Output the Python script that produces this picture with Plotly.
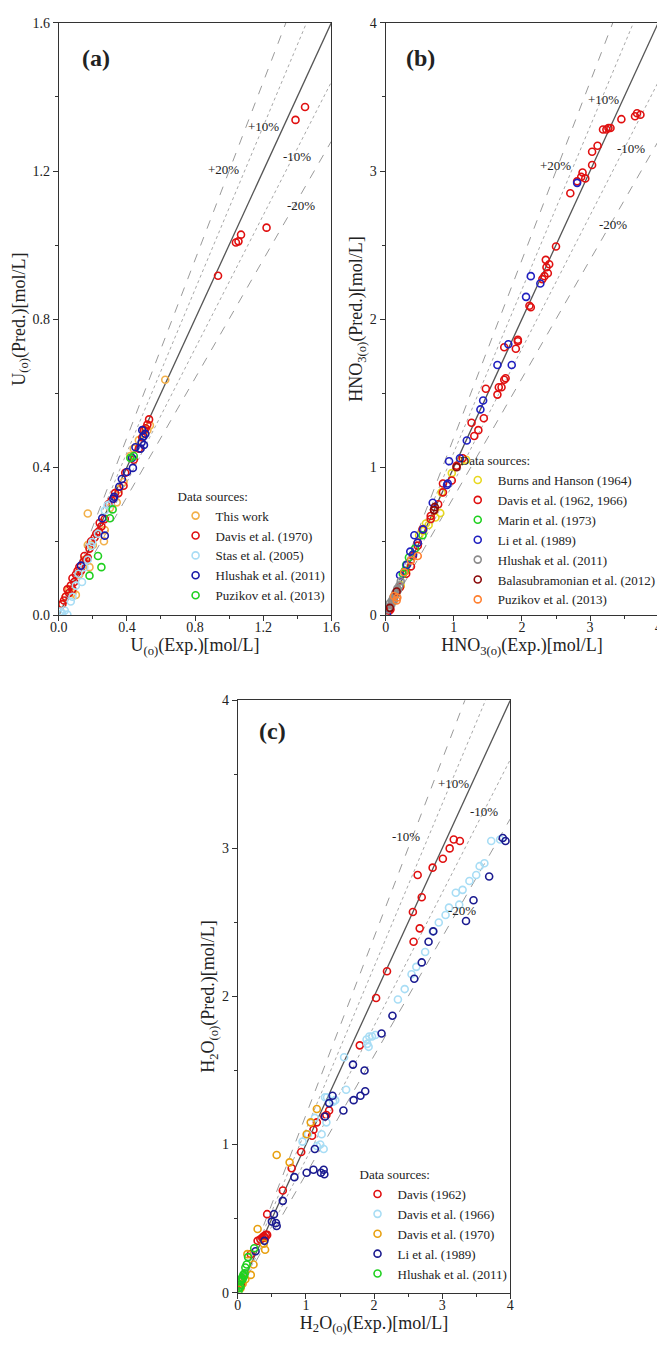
import plotly.graph_objects as go

# ---------------- Panel (a): U ----------------
a_thiswork_x = [0.02, 0.04, 0.06, 0.08, 0.10, 0.12, 0.15, 0.17, 0.17, 0.18, 0.20, 0.23, 0.265, 0.27, 0.30, 0.34, 0.35, 0.38, 0.42, 0.44, 0.47, 0.50, 0.52, 0.535, 0.625]
a_thiswork_y = [0.03, 0.05, 0.07, 0.06, 0.055, 0.11, 0.15, 0.275, 0.19, 0.13, 0.19, 0.22, 0.20, 0.23, 0.29, 0.305, 0.34, 0.36, 0.43, 0.45, 0.473, 0.49, 0.50, 0.513, 0.636]
a_davis_x = [0.02, 0.03, 0.04, 0.05, 0.06, 0.07, 0.08, 0.08, 0.09, 0.10, 0.11, 0.12, 0.13, 0.145, 0.15, 0.16, 0.17, 0.18, 0.19, 0.21, 0.22, 0.235, 0.24, 0.25, 0.27, 0.29, 0.31, 0.33, 0.35, 0.38, 0.39, 0.44, 0.47, 0.49, 0.50, 0.51, 0.52, 0.53, 0.935, 1.04, 1.055, 1.07, 1.22, 1.39, 1.446]
a_davis_y = [0.03, 0.04, 0.05, 0.07, 0.06, 0.08, 0.07, 0.10, 0.09, 0.11, 0.12, 0.13, 0.12, 0.144, 0.16, 0.15, 0.155, 0.18, 0.20, 0.21, 0.22, 0.227, 0.25, 0.24, 0.26, 0.30, 0.31, 0.33, 0.33, 0.35, 0.385, 0.42, 0.45, 0.48, 0.50, 0.505, 0.515, 0.529, 0.917, 1.007, 1.01, 1.028, 1.047, 1.338, 1.373]
a_stas_x = [0.01, 0.02, 0.035, 0.05, 0.07, 0.08, 0.10, 0.115, 0.136, 0.15, 0.17, 0.19, 0.196, 0.23, 0.27, 0.286, 0.30]
a_stas_y = [0.01, 0.005, 0.013, 0.002, 0.037, 0.05, 0.08, 0.112, 0.09, 0.13, 0.15, 0.187, 0.198, 0.22, 0.283, 0.297, 0.30]
a_hlushak_x = [0.13, 0.255, 0.27, 0.32, 0.325, 0.355, 0.37, 0.40, 0.43, 0.435, 0.45, 0.48, 0.486, 0.49, 0.497, 0.50, 0.508]
a_hlushak_y = [0.134, 0.262, 0.215, 0.315, 0.32, 0.347, 0.368, 0.387, 0.425, 0.398, 0.454, 0.45, 0.467, 0.50, 0.483, 0.46, 0.49]
a_puzikov_x = [0.18, 0.23, 0.25, 0.30, 0.316, 0.42, 0.44]
a_puzikov_y = [0.107, 0.16, 0.13, 0.262, 0.286, 0.425, 0.43]

# ---------------- Panel (b): HNO3 ----------------
b_burns_x = [0.05, 0.10, 0.15, 0.22, 0.30, 0.40, 0.49, 0.55, 0.59, 0.63, 0.73, 0.80, 0.82, 0.97, 1.10, 1.18]
b_burns_y = [0.05, 0.09, 0.14, 0.20, 0.30, 0.41, 0.54, 0.57, 0.62, 0.61, 0.66, 0.69, 0.83, 0.96, 1.04, 1.05]
b_davis_x = [0.05, 0.07, 0.16, 0.21, 0.30, 0.37, 0.40, 0.47, 0.47, 0.54, 0.66, 0.66, 0.71, 0.77, 0.84, 0.84, 0.97, 1.04, 1.13, 1.26, 1.30, 1.36, 1.44, 1.47, 1.64, 1.66, 1.70, 1.74, 1.76, 1.74, 1.91, 1.94, 1.94, 2.11, 2.13, 2.30, 2.33, 2.38, 2.36, 2.40, 2.35, 2.50, 2.71, 2.81, 2.87, 2.93, 2.89, 3.03, 3.03, 3.11, 3.19, 3.24, 3.27, 3.30, 3.46, 3.66, 3.69, 3.74]
b_davis_y = [0.03, 0.04, 0.16, 0.19, 0.28, 0.33, 0.40, 0.47, 0.49, 0.58, 0.65, 0.67, 0.71, 0.75, 0.83, 0.89, 0.91, 1.01, 1.06, 1.30, 1.21, 1.25, 1.33, 1.53, 1.49, 1.54, 1.54, 1.59, 1.60, 1.81, 1.80, 1.85, 1.86, 2.09, 2.08, 2.27, 2.29, 2.31, 2.35, 2.37, 2.40, 2.49, 2.85, 2.93, 2.96, 2.95, 2.99, 3.04, 3.13, 3.17, 3.28, 3.28, 3.29, 3.29, 3.35, 3.37, 3.39, 3.38]
b_marin_x = [0.25, 0.28, 0.30, 0.34, 0.43, 0.54]
b_marin_y = [0.28, 0.30, 0.34, 0.39, 0.45, 0.54]
b_li_x = [0.02, 0.21, 0.31, 0.36, 0.40, 0.42, 0.47, 0.55, 0.69, 0.90, 0.91, 0.93, 1.09, 1.19, 1.39, 1.43, 1.64, 1.80, 1.85, 2.06, 2.13, 2.27, 2.81]
b_li_y = [0.00, 0.27, 0.34, 0.43, 0.41, 0.54, 0.49, 0.58, 0.76, 0.88, 0.89, 1.04, 1.06, 1.18, 1.39, 1.45, 1.69, 1.83, 1.69, 2.15, 2.29, 2.24, 2.92]
b_hlushak_x = [0.03, 0.05, 0.06, 0.08, 0.09, 0.10, 0.11, 0.12, 0.13, 0.14, 0.15, 0.17, 0.18, 0.20, 0.22]
b_hlushak_y = [0.04, 0.05, 0.08, 0.07, 0.10, 0.09, 0.12, 0.10, 0.13, 0.15, 0.14, 0.18, 0.17, 0.20, 0.23]
b_bala_x = [0.06, 0.16, 0.71, 0.72, 1.04]
b_bala_y = [0.05, 0.16, 0.71, 0.73, 1.00]
b_puzikov_x = [0.12, 0.16, 0.17, 0.27, 0.37, 0.47]
b_puzikov_y = [0.13, 0.10, 0.12, 0.29, 0.37, 0.40]

# ---------------- Panel (c): H2O ----------------
c_davis62_x = [0.02, 0.05, 0.19, 0.29, 0.33, 0.36, 0.38, 0.40, 0.41, 0.43, 0.43, 0.66, 0.79, 0.93, 1.09, 1.11, 1.16, 1.27, 1.30, 1.34, 1.79, 2.03, 2.19, 2.58, 2.67, 2.57, 2.70, 2.64, 2.86, 3.01, 3.11, 3.17, 3.26]
c_davis62_y = [0.08, 0.06, 0.26, 0.35, 0.36, 0.37, 0.38, 0.37, 0.39, 0.39, 0.53, 0.69, 0.84, 0.95, 1.06, 1.10, 1.15, 1.19, 1.20, 1.23, 1.67, 1.99, 2.17, 2.37, 2.46, 2.57, 2.67, 2.82, 2.87, 2.93, 3.00, 3.06, 3.05]
c_davis66_x = [0.95, 1.03, 1.13, 1.16, 1.21, 1.23, 1.26, 1.28, 1.30, 1.31, 1.40, 1.43, 1.56, 1.59, 1.89, 1.90, 1.92, 1.93, 1.97, 2.02, 2.35, 2.45, 2.55, 2.62, 2.75, 2.86, 2.95, 3.05, 3.10, 3.20, 3.25, 3.30, 3.40, 3.50, 3.55, 3.62, 3.72, 3.85]
c_davis66_y = [1.02, 1.07, 1.18, 0.99, 1.00, 1.07, 0.97, 1.32, 1.15, 1.32, 1.29, 1.30, 1.59, 1.37, 1.71, 1.68, 1.66, 1.73, 1.73, 1.74, 1.98, 2.05, 2.15, 2.20, 2.30, 2.44, 2.50, 2.55, 2.60, 2.70, 2.62, 2.72, 2.78, 2.82, 2.88, 2.90, 3.05, 3.06]
c_davis70_x = [0.04, 0.07, 0.11, 0.14, 0.19, 0.23, 0.29, 0.38, 0.40, 0.57, 0.76, 1.01, 1.07, 1.16]
c_davis70_y = [0.03, 0.06, 0.09, 0.26, 0.12, 0.19, 0.43, 0.33, 0.29, 0.93, 0.88, 1.07, 1.15, 1.24]
c_li_x = [0.26, 0.39, 0.50, 0.53, 0.56, 0.57, 0.66, 0.83, 1.01, 1.11, 1.13, 1.22, 1.26, 1.27, 1.28, 1.34, 1.39, 1.55, 1.69, 1.70, 1.80, 1.86, 1.87, 2.11, 2.27, 2.59, 2.70, 2.80, 2.87, 3.35, 3.46, 3.69, 3.89, 3.93]
c_li_y = [0.28, 0.35, 0.48, 0.53, 0.47, 0.45, 0.62, 0.78, 0.81, 0.83, 0.97, 0.81, 0.83, 0.80, 1.19, 1.28, 1.33, 1.23, 1.54, 1.30, 1.33, 1.50, 1.36, 1.75, 1.87, 2.12, 2.23, 2.37, 2.44, 2.51, 2.65, 2.81, 3.07, 3.05]
c_hlushak_x = [0.01, 0.02, 0.03, 0.04, 0.05, 0.06, 0.07, 0.08, 0.09, 0.10, 0.11, 0.13, 0.15, 0.24]
c_hlushak_y = [0.01, 0.03, 0.05, 0.04, 0.08, 0.10, 0.09, 0.12, 0.11, 0.13, 0.17, 0.19, 0.24, 0.30]

FONT = "Liberation Serif, Times New Roman, serif"
fig = go.Figure()

def guides(xref, yref, xmax):
    specs = [(1.0, "#555555", "solid", 1.3), (1.1, "#a8a8a8", "dot", 1.0), (0.9, "#a8a8a8", "dot", 1.0),
             (1.2, "#9a9a9a", "dash", 1.0), (0.8, "#9a9a9a", "dash", 1.0)]
    for k, c, d, w in specs:
        fig.add_trace(go.Scatter(x=[0, xmax], y=[0, k * xmax], mode="lines", xaxis=xref, yaxis=yref,
                                 line=dict(color=c, dash=d, width=w), showlegend=False, hoverinfo="skip"))

def pts(x, y, name, color, xref, yref, legend):
    fig.add_trace(go.Scatter(x=x, y=y, mode="markers", name=name, xaxis=xref, yaxis=yref, legend=legend,
                             marker=dict(symbol="circle-open", size=7, color=color, line=dict(width=1.6, color=color))))

guides("x", "y", 1.6)
pts(a_thiswork_x, a_thiswork_y, "This work", "#F2B04A", "x", "y", "legend")
pts(a_davis_x, a_davis_y, "Davis et al. (1970)", "#E01010", "x", "y", "legend")
pts(a_stas_x, a_stas_y, "Stas et al. (2005)", "#A8DDF5", "x", "y", "legend")
pts(a_hlushak_x, a_hlushak_y, "Hlushak et al. (2011)", "#1A1AA8", "x", "y", "legend")
pts(a_puzikov_x, a_puzikov_y, "Puzikov et al. (2013)", "#20D020", "x", "y", "legend")

guides("x2", "y2", 4)
pts(b_burns_x, b_burns_y, "Burns and Hanson (1964)", "#E8D820", "x2", "y2", "legend2")
pts(b_davis_x, b_davis_y, "Davis et al. (1962, 1966)", "#E01010", "x2", "y2", "legend2")
pts(b_marin_x, b_marin_y, "Marin et al. (1973)", "#20D020", "x2", "y2", "legend2")
pts(b_li_x, b_li_y, "Li et al. (1989)", "#2020C0", "x2", "y2", "legend2")
pts(b_hlushak_x, b_hlushak_y, "Hlushak et al. (2011)", "#8C8C8C", "x2", "y2", "legend2")
pts(b_bala_x, b_bala_y, "Balasubramonian et al. (2012)", "#8B0A0A", "x2", "y2", "legend2")
pts(b_puzikov_x, b_puzikov_y, "Puzikov et al. (2013)", "#FF8030", "x2", "y2", "legend2")

guides("x3", "y3", 4)
pts(c_davis62_x, c_davis62_y, "Davis (1962)", "#E01010", "x3", "y3", "legend3")
pts(c_davis66_x, c_davis66_y, "Davis et al. (1966)", "#A8DDF5", "x3", "y3", "legend3")
pts(c_davis70_x, c_davis70_y, "Davis et al. (1970)", "#E8A010", "x3", "y3", "legend3")
pts(c_li_x, c_li_y, "Li et al. (1989)", "#1A1A90", "x3", "y3", "legend3")
pts(c_hlushak_x, c_hlushak_y, "Hlushak et al. (2011)", "#20D020", "x3", "y3", "legend3")

W, H = 665, 1351
def dx(p):
    return p / W
def dy(p):
    return 1 - p / H

def ax(domain, rng, dtick, fmt, title, anchor, standoff_lbl=0):
    return dict(domain=domain, range=rng, dtick=dtick, tick0=0, tickformat=fmt, anchor=anchor,
                showgrid=False, zeroline=False, showline=True, linecolor="#333333", linewidth=1.2, mirror=True,
                ticks="outside", ticklen=5, tickcolor="#333333", tickfont=dict(family=FONT, size=14, color="#222"),
                ticklabelstandoff=standoff_lbl,
                minor=dict(dtick=dtick / 2, ticks="outside", ticklen=3, tickcolor="#333333", showgrid=False),
                title=dict(text=title, font=dict(family=FONT, size=18, color="#222"), standoff=2))

leg_common = dict(font=dict(family=FONT, size=13, color="#222"), bgcolor="rgba(0,0,0,0)",
                  xanchor="left", yanchor="top", tracegroupgap=0,
                  title=dict(text="Data sources:", font=dict(family=FONT, size=13, color="#222")))

fig.update_layout(
    width=W, height=H, margin=dict(l=0, r=0, t=0, b=0),
    paper_bgcolor="white", plot_bgcolor="white",
    font=dict(family=FONT, color="#222"),
    xaxis=ax([dx(43), dx(323)], [0, 1.6], 0.4, ".1f", "U<sub>(o)</sub>(Exp.)[mol/L]", "y", -6),
    yaxis=ax([dy(607), dy(8)], [0, 1.6], 0.4, ".1f", "U<sub>(o)</sub>(Pred.)[mol/L]", "x"),
    xaxis2=ax([dx(379), dx(659)], [0, 4], 1, "d", "HNO<sub>3(o)</sub>(Exp.)[mol/L]", "y2", -6),
    yaxis2=ax([dy(607), dy(8)], [0, 4], 1, "d", "HNO<sub>3(o)</sub>(Pred.)[mol/L]", "x2"),
    xaxis3=ax([dx(227), dx(507)], [0, 4], 1, "d", "H<sub>2</sub>O<sub>(o)</sub>(Exp.)[mol/L]", "y3", -6),
    yaxis3=ax([dy(1292), dy(693)], [0, 4], 1, "d", "H<sub>2</sub>O<sub>(o)</sub>(Pred.)[mol/L]", "x3"),
    legend=dict(x=dx(163), y=dy(474), **leg_common),
    legend2=dict(x=dx(453), y=dy(438), **leg_common),
    legend3=dict(x=dx(350), y=dy(1160), **leg_common),
    showlegend=True,
)

def label(text, x, y, xr, yr, size=13, bold=False):
    fig.add_annotation(text=f"<b>{text}</b>" if bold else text, x=x, y=y, xref=xr, yref=yr, showarrow=False,
                       font=dict(family=FONT, size=size, color="#222"))

label("(a)", 0.22, 1.506, "x", "y", 24, True)
label("+10%", 1.2, 1.32, "x", "y")
label("+20%", 0.97, 1.205, "x", "y")
label("-10%", 1.4, 1.24, "x", "y")
label("-20%", 1.42, 1.106, "x", "y")

label("(b)", 0.51, 3.76, "x2", "y2", 24, True)
label("+10%", 3.2, 3.48, "x2", "y2")
label("+20%", 2.49, 3.04, "x2", "y2")
label("-10%", 3.6, 3.15, "x2", "y2")
label("-20%", 3.34, 2.64, "x2", "y2")

label("(c)", 0.51, 3.79, "x3", "y3", 24, True)
label("+10%", 3.16, 3.44, "x3", "y3")
label("-10%", 2.47, 3.08, "x3", "y3")
label("-10%", 3.61, 3.25, "x3", "y3")
label("-20%", 3.29, 2.58, "x3", "y3")

fig.write_html("out.html")
